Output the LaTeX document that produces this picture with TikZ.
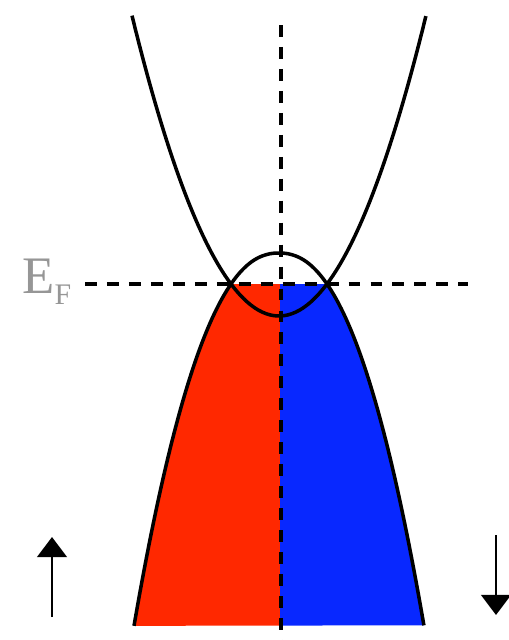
\documentclass[tikz,border=0pt]{standalone}
\usepackage{fontspec}
\setmainfont{Liberation Serif}
\usetikzlibrary{arrows.meta}

\definecolor{spinup}{RGB}{255,40,0}
\definecolor{spindown}{RGB}{8,40,255}
\definecolor{labelgray}{RGB}{150,150,150}

\begin{document}
\begin{tikzpicture}[
    x=0.02cm, y=-0.02cm,
    line cap=butt,
    line join=round,
    band/.style={draw=black, line width=2pt, samples=80, smooth},
    guide/.style={draw=black, line width=2pt, dash pattern=on 6.8pt off 5.7pt},
    spin/.style={line width=1.2pt, -{Triangle[width=17pt,length=11.5pt]}},
    lbl/.style={text=labelgray, inner sep=0pt, anchor=base west}
]
\useasboundingbox (0,0) rectangle (508,640);

% ------------------------
% Filled valence band (below E_F)
% ------------------------
\begin{scope}
    \clip (0,284) rectangle (280,628);
    \fill[spinup] plot[domain=-1.45:1.45, samples=80]
        ({279+100*\x}, {253+161.6*pow(abs(\x)+0.0001,2.25)}) -- cycle;
\end{scope}
\begin{scope}
    \clip (280,284) rectangle (508,628);
    \fill[spindown] plot[domain=-1.45:1.45, samples=80]
        ({279+100*\x}, {253+161.6*pow(abs(\x)+0.0001,2.25)}) -- cycle;
\end{scope}

% ------------------------
% Guide lines
% ------------------------
\coordinate (ktop) at (281,25);
\coordinate (kbot) at (281,640);
\coordinate (efleft) at (85,284);
\coordinate (efright) at (468,284);
\draw[guide] (ktop) -- (kbot);
\draw[guide] (efleft) -- (efright);

% ------------------------
% Bands
% ------------------------
\draw[band] plot[domain=-1.47:1.47] ({279+100*\x}, {316-139*\x*\x});
\draw[band] plot[domain=-1.45:1.45]
    ({279+100*\x}, {253+161.6*pow(abs(\x)+0.0001,2.25)});

% ------------------------
% Fermi level label
% ------------------------
\node[lbl] (ef) at (22,293) {\fontsize{30}{30}\selectfont E\raisebox{-6.8pt}{\fontsize{17}{17}\selectfont F}};

% ------------------------
% Spin arrows
% ------------------------
\coordinate (upfoot) at (52,617);
\coordinate (uptip) at (52,537);
\coordinate (downfoot) at (496,535);
\coordinate (downtip) at (496,615);
\draw[spin] (upfoot) -- (uptip);
\draw[spin] (downfoot) -- (downtip);

\end{tikzpicture}
\end{document}
